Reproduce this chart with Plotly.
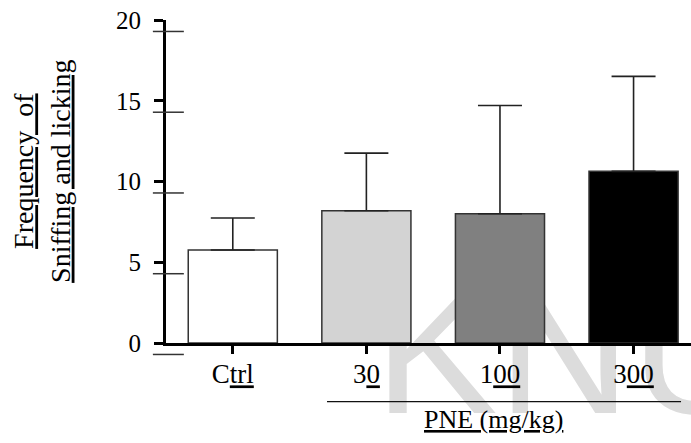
import plotly.graph_objects as go

categories = ["Ctrl", "30", "100", "300"]
tick_labels = ["C<u>trl</u>", "3<u>0</u>", "1<u>00</u>", "3<u>00</u>"]
means = [5.76, 8.19, 8.0, 10.63]
errors_up = [1.98, 3.57, 6.71, 5.88]
bar_colors = ["#ffffff", "#d3d3d3", "#808080", "#000000"]
y_ticks = [0, 5, 10, 15, 20]

SERIF = "Liberation Serif, Times New Roman, serif"

fig = go.Figure()
fig.add_trace(go.Bar(
    x=list(range(len(categories))), y=means,
    width=0.667,
    marker=dict(color=bar_colors, line=dict(color="#333333", width=1.5)),
    error_y=dict(type="data", symmetric=False, array=errors_up,
                 arrayminus=[0] * len(means), color="#222222",
                 thickness=1.6, width=22),
    showlegend=False,
))

# offset duplicate tick marks (scan artefact in the original)
shapes = []
for t in y_ticks:
    yp = (t - 0.71) / 20
    shapes.append(dict(type="line", xref="paper", yref="paper",
                       x0=-0.025, x1=0.034, y0=yp, y1=yp,
                       line=dict(color="#333333", width=1.5)))
# line under dose labels
shapes.append(dict(type="line", xref="paper", yref="paper",
                   x0=0.3067, x1=0.981, y0=-0.1816, y1=-0.1816,
                   line=dict(color="#111111", width=1.3)))
# watermark
shapes.append(dict(type="rect", xref="paper", yref="paper", layer="below",
                   x0=0.385, x1=1.3, y0=-0.29, y1=0.3,
                   line=dict(width=0), fillcolor="rgba(0,0,0,0)",
                   label=dict(text="KNU", textposition="bottom left",
                              font=dict(family="Liberation Sans, Arial",
                                        size=185, color="#dcdcdc"))))

fig.update_layout(
    width=691, height=443,
    margin=dict(l=166, r=0, t=20, b=100),
    paper_bgcolor="white", plot_bgcolor="white",
    font=dict(family=SERIF, color="black"),
    bargap=0.333,
    shapes=shapes,
    xaxis=dict(range=[-0.5, 3.43], tickmode="array",
               tickvals=list(range(len(categories))), ticktext=tick_labels,
               ticks="outside", ticklen=8, tickwidth=3, tickcolor="black",
               showline=True, linecolor="black", linewidth=3,
               showgrid=False, zeroline=False,
               tickfont=dict(family=SERIF, size=27, color="black"),
               ticklabelstandoff=-3),
    yaxis=dict(range=[0, 20], tickmode="array", tickvals=y_ticks,
               ticks="outside", ticklen=9, tickwidth=3, tickcolor="black",
               showline=True, linecolor="black", linewidth=3,
               showgrid=False, zeroline=False,
               tickfont=dict(family=SERIF, size=25, color="black"),
               ticklabelstandoff=8),
    annotations=[
        dict(text="<u>Frequency  of</u><br><u>Sniffing and licking</u>",
             xref="paper", yref="paper", x=-0.236, y=0.53,
             xanchor="center", yanchor="middle", textangle=-90,
             showarrow=False, font=dict(family=SERIF, size=28, color="black")),
        dict(text="<u>PNE (mg/kg)</u>", xref="paper", yref="paper",
             x=0.623, y=-0.237, xanchor="center", yanchor="middle",
             showarrow=False, font=dict(family=SERIF, size=26, color="black")),
    ],
)

fig.write_html("out.html")
